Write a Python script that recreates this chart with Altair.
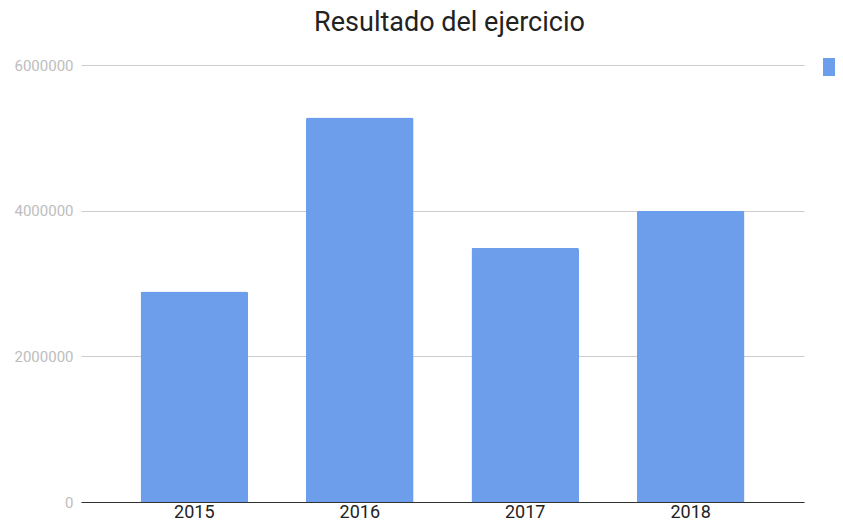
import altair as alt
import pandas as pd

years = ["2015", "2016", "2017", "2018"]
values = [2890000, 5280000, 3490000, 4000000]
series_name = "Resultado del ejercicio"
title_text = "Resultado del ejercicio"
y_ticks = [0, 2000000, 4000000, 6000000]

df = pd.DataFrame({"year": years, "value": values, "serie": [series_name] * len(years)})

chart = (
    alt.Chart(df)
    .mark_bar(color="#6d9eeb", cornerRadiusTopLeft=2, cornerRadiusTopRight=2)
    .encode(
        x=alt.X(
            "year:N",
            sort=years,
            title=None,
            scale=alt.Scale(paddingInner=0.35, paddingOuter=0.36),
            axis=alt.Axis(
                labelAngle=0,
                ticks=False,
                domainColor="#333333",
                domainWidth=1,
                labelColor="#222222",
                labelFont="Roboto",
                labelFontSize=18,
                labelPadding=1,
                grid=False,
            ),
        ),
        y=alt.Y(
            "value:Q",
            title=None,
            scale=alt.Scale(domain=[0, 6000000], nice=False),
            axis=alt.Axis(
                values=y_ticks,
                format="d",
                ticks=False,
                domain=False,
                labelColor="#bdbdbd",
                labelFont="Roboto",
                labelFontSize=15,
                labelPadding=8,
                gridColor="#cccccc",
                gridWidth=1,
            ),
        ),
        color=alt.Color(
            "serie:N",
            scale=alt.Scale(range=["#6d9eeb"]),
            legend=alt.Legend(
                title=None,
                orient="none",
                legendX=742,
                legendY=-7,
                symbolType="square",
                symbolSize=324,
                symbolStrokeWidth=0,
                symbolOffset=0,
                padding=0,
                labelFont="Roboto",
                labelFontSize=15,
                labelColor="#222222",
            ),
        ),
    )
    .properties(
        width=723,
        height=437,
        autosize=alt.AutoSizeParams(type="none"),
        padding={"left": 73, "top": 57, "right": 31, "bottom": 19},
        title=alt.TitleParams(
            title_text,
            font="Roboto",
            fontSize=27,
            fontWeight="normal",
            color="#222222",
            anchor="middle",
            dx=7,
            baseline="alphabetic",
            offset=0,
        ),
    )
    .configure_view(stroke=None)
)

chart.save("out.html", embed_options={"renderer": "svg", "actions": False})
